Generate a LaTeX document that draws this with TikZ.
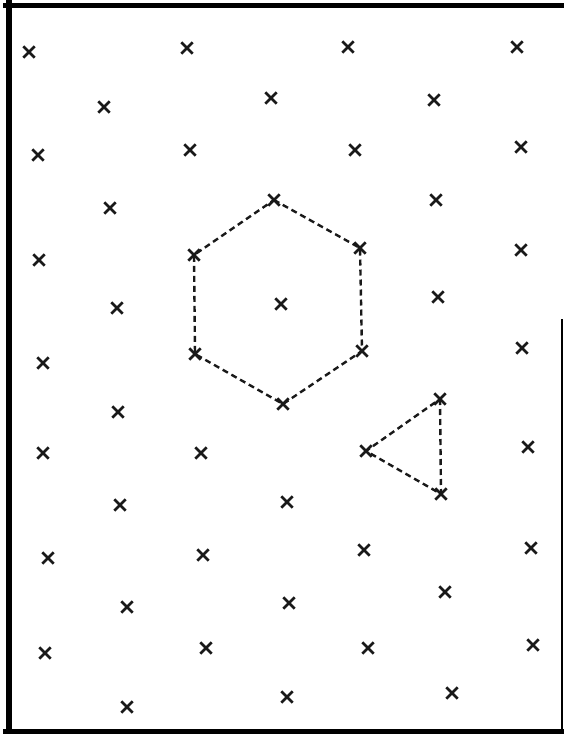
\documentclass[tikz,border=0pt]{standalone}
\usetikzlibrary{shapes.misc}
\definecolor{inkDark}{RGB}{25,25,25}
\begin{document}
\begin{tikzpicture}[
  x=1pt,y=-1pt,
  lat/.style={cross out,draw=inkDark,minimum size=8.5pt,inner sep=0pt,line width=2.8pt},
  edge/.style={draw=inkDark,line width=2.4pt,dash pattern=on 6pt off 4pt},
  frame/.style={draw=black,line cap=rect}
]
\useasboundingbox (0,0) rectangle (563,734);

% ==========  Lattice points  ==========
\foreach \px/\py/\nm in {29/52/a1, 187/48/a2, 348/47/a3, 517/47/a4,
    104/107/b1, 271/98/b2, 434/100/b3,
    38/155/c1, 190/150/c2, 355/150/c3, 521/147/c4,
    110/208/d1, 274/200/d2, 436/200/d3,
    39/260/e1, 194/255/e2, 360/248/e3, 521/250/e4,
    117/308/f1, 281/304/f2, 438/297/f3,
    43/363/g1, 195/354/g2, 362/351/g3, 522/348/g4,
    118/412/h1, 283/404/h2, 440/399/h3,
    43/453/i1, 201/453/i2, 366/451/i3, 528/447/i4,
    120/505/j1, 287/502/j2, 441/494/j3,
    48/558/k1, 203/555/k2, 364/550/k3, 531/548/k4,
    127/607/l1, 289/603/l2, 445/592/l3,
    45/653/m1, 206/648/m2, 368/648/m3, 533/645/m4,
    127/707/n1, 287/697/n2, 452/693/n3}
  \node[lat] (\nm) at (\px,\py) {};

% ==========  Hexagon  ==========
\draw[edge] (d2.center) -- (e3.center) -- (g3.center) -- (h2.center)
  -- (g2.center) -- (e2.center) -- cycle;

% ==========  Triangle  ==========
\draw[edge] (h3.center) -- (j3.center) -- (i3.center) -- cycle;

% ==========  Frame  ==========
\draw[frame,line width=5pt] (5,5.5) -- (563,5.5);
\draw[frame,line width=6pt] (8.5,3) -- (8.5,731);
\draw[frame,line width=5pt] (5,731.5) -- (563,731.5);
\draw[frame,line width=2pt] (562,320) -- (562,731);

\end{tikzpicture}
\end{document}
